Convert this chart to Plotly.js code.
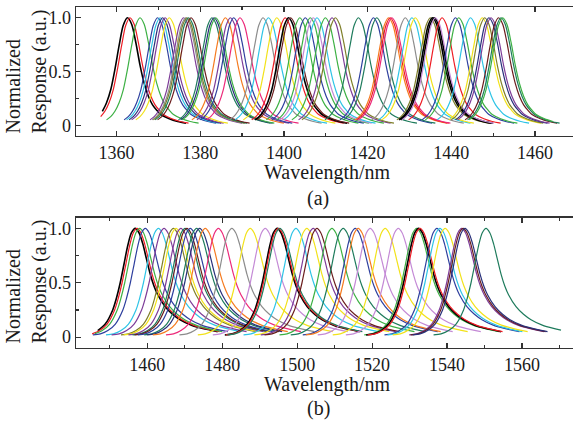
<!DOCTYPE html>
<html>
<head>
<meta charset="utf-8">
<script src="https://cdn.plot.ly/plotly-3.0.1.min.js"></script>
<style>html,body{margin:0;padding:0;background:#fff;}#chart{width:573px;height:423px;}</style>
</head>
<body>
<div id="chart"></div>
<script>
// ---- Data ----
// Peak wavelengths (nm) of each filter channel, panel (a)
const peaksA = [1362.6,1363.2,1365.6,1369.8,1370.4,1371.0,1371.6,1372.6,1376.0,1376.5,1376.8,1377.2,1377.8,
  1382.8,1383.3,1383.7,1386.0,1387.2,1388.0,1389.5,1395.0,1396.3,1398.3,1400.3,1401.1,1401.6,1403.8,1405.1,
  1406.3,1407.0,1407.9,1409.9,1411.5,1412.3,1417.8,1421.4,1422.2,1425.0,1425.4,1425.8,1429.0,1430.6,1431.4,
  1435.0,1435.5,1435.9,1436.2,1437.8,1441.0,1441.8,1444.6,1447.4,1448.0,1449.0,1449.5,1451.3,1451.9,1452.3];
// Peak wavelengths (nm), panel (b)
const peaksB = [1456.8,1457.3,1458.0,1459.5,1463.0,1464.5,1467.0,1467.7,1469.0,1470.1,1470.6,1471.5,1473.2,
  1474.0,1475.5,1479.0,1482.6,1487.5,1491.5,1494.7,1495.0,1495.4,1499.7,1502.6,1504.3,1505.3,1509.3,1512.3,
  1515.5,1516.3,1519.5,1523.5,1527.0,1531.9,1532.4,1532.8,1537.3,1538.1,1539.5,1543.9,1544.3,1544.8,1550.4];
// Measured response profile around a peak (offset from peak in nm, normalized response), panel (a)
const offsetA = [-8,-7,-6,-5,-4,-3,-2,-1,0,1,2,3,4,5,6,7,8,10,12,14];
const respA   = [0.05,0.08,0.13,0.21,0.33,0.52,0.74,0.93,1.0,0.94,0.77,0.56,0.39,0.27,0.19,0.14,0.10,0.06,0.035,0.02];
// Measured response profile, panel (b)
const offsetB = [-14,-12,-10,-8,-6,-5,-4,-3,-2,-1,0,1,2,3,4,5,6,8,10,12,15,18,20,22];
const respB   = [0.02,0.03,0.06,0.12,0.25,0.36,0.50,0.67,0.84,0.96,1.0,0.96,0.86,0.72,0.58,0.47,0.39,0.28,0.21,0.16,0.11,0.08,0.065,0.05];
// Measured wavelength span of each panel (nm)
const spanA = [1355.8, 1466.0];
const spanB = [1445.0, 1570.5];
// Axis tick labels
const yTickVals = [0, 0.5, 1];
const yTickText = ['0', '0.5', '1.0'];

// ---- Styles ----
const pal = {K:'#000000',R:'#ee1c24',G:'#3cb043',B:'#2e3f9e',C:'#2ec4e6',Y:'#f2e21a',P:'#7d3c98',
  M:'#ec2a7a',O:'#f57b20',Gy:'#8c8c8c',T:'#1e7b5c',Br:'#6b1d1d',Ol:'#7f7f2a',L:'#c48ad6',N:'#28307a'};
const colA = ['K','R','G','B','C','N','P','Y','P','Gy','Ol','T','Br','T','N','G','O','P','B','M','Gy','C','Y','R','K','Br','G','B',
  'G','L','C','G','P','Ol','T','B','T','O','R','M','Gy','C','Y','Ol','K','K','L','R','B','G','C','Y','Ol','N','P','Br','T','G'];
const colB = ['K','R','G','B','C','P','Ol','Y','P','T','Br','B','T','N','O','M','Gy','Y','L','K','R','T','C','Y','P','Br','G','T',
  'B','O','L','Y','L','G','K','R','B','C','Y','P','Br','N','T'];

function makeTraces(peaks, cols, offs, resp, span, xa, ya) {
  return peaks.map((c, i) => {
    const x = [], y = [];
    offs.forEach((o, k) => {
      const w = c + o;
      if (w >= span[0] && w <= span[1]) { x.push(w); y.push(resp[k]); }
    });
    return {x, y, xaxis: xa, yaxis: ya, type: 'scatter', mode: 'lines',
      line: {color: pal[cols[i]], width: cols[i] === 'K' ? 1.6 : 1.2, shape: 'spline', smoothing: 0.8},
      showlegend: false, hoverinfo: 'skip'};
  });
}

const traces = makeTraces(peaksA, colA, offsetA, respA, spanA, 'x', 'y')
  .concat(makeTraces(peaksB, colB, offsetB, respB, spanB, 'x2', 'y2'));

const W = 573, H = 423;
const font = 'Liberation Serif, Times New Roman, serif';
const axCommon = {showline: true, linecolor: '#333', linewidth: 1.3, ticks: 'inside', ticklen: 5,
  tickcolor: '#333', tickwidth: 1.2, showgrid: false, zeroline: false,
  tickfont: {family: font, size: 18, color: '#1a1a1a'}};

const xdom = [76 / W, 1];
const layout = {
  width: W, height: H, margin: {l: 0, r: 0, t: 0, b: 0},
  paper_bgcolor: '#fff', plot_bgcolor: '#fff', showlegend: false,
  xaxis: Object.assign({}, axCommon, {domain: xdom, anchor: 'y', range: [1350.3, 1469.1], mirror: 'ticks',
    tick0: 1360, dtick: 20, minor: {dtick: 10, ticks: 'inside', ticklen: 3, tickcolor: '#333'}}),
  yaxis: Object.assign({}, axCommon, {domain: [1 - 136 / H, 1 - 7 / H], anchor: 'x', range: [-0.1, 1.1],
    tickmode: 'array', tickvals: yTickVals, ticktext: yTickText,
    minor: {tickmode: 'array', tickvals: [0.25, 0.75], ticks: 'inside', ticklen: 3, tickcolor: '#333'}}),
  xaxis2: Object.assign({}, axCommon, {domain: xdom, anchor: 'y2', range: [1441.0, 1573.6], mirror: 'ticks',
    tick0: 1460, dtick: 20, minor: {dtick: 10, ticks: 'inside', ticklen: 3, tickcolor: '#333'}}),
  yaxis2: Object.assign({}, axCommon, {domain: [1 - 348 / H, 1 - 217.5 / H], anchor: 'x2', range: [-0.1, 1.1],
    tickmode: 'array', tickvals: yTickVals, ticktext: yTickText,
    minor: {tickmode: 'array', tickvals: [0.25, 0.75], ticks: 'inside', ticklen: 3, tickcolor: '#333'}}),
  annotations: [
    {text: 'Wavelength/nm', x: 327 / W, y: 1 - 172.5 / H},
    {text: '(a)', x: 318 / W, y: 1 - 198.5 / H},
    {text: 'Wavelength/nm', x: 327 / W, y: 1 - 384 / H},
    {text: '(b)', x: 318 / W, y: 1 - 408 / H},
    {text: 'Normalized<br>Response (a.u.)', x: 26 / W, y: 1 - 71.5 / H, textangle: -90, align: 'left'},
    {text: 'Normalized<br>Response (a.u.)', x: 26 / W, y: 1 - 281.5 / H, textangle: -90, align: 'left'}
  ].map(a => Object.assign({xref: 'paper', yref: 'paper', xanchor: 'center', yanchor: 'middle',
    showarrow: false, font: {family: font, size: 20, color: '#1a1a1a'}}, a))
};

Plotly.newPlot('chart', traces, layout, {staticPlot: true, displayModeBar: false});
</script>
</body>
</html>
